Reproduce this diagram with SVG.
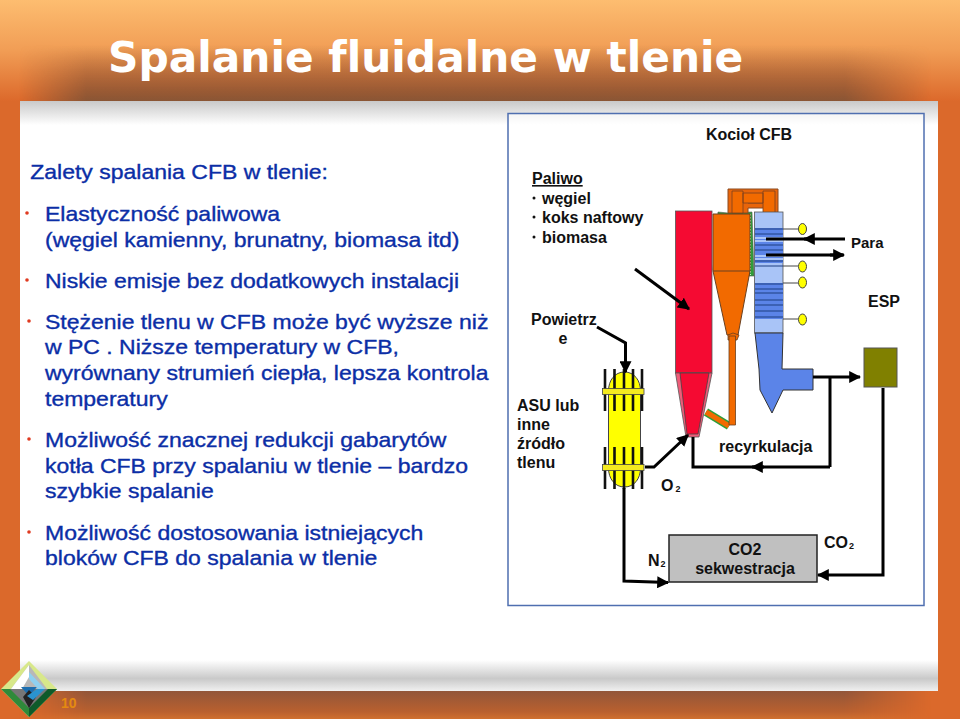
<svg xmlns="http://www.w3.org/2000/svg" width="960" height="719" viewBox="0 0 960 719">
<style>
.b{font-family:"Liberation Sans",Arial,sans-serif;font-size:20px;fill:#0b2ea6;stroke:#0b2ea6;stroke-width:.35px;font-variant-ligatures:none}
.t{font-family:"Liberation Sans",Arial,sans-serif;font-weight:bold;font-size:16px;fill:#111;font-variant-ligatures:none}
.w{fill:none;stroke:#000;stroke-width:3}
.g{fill:none;stroke:#444;stroke-width:1}
.bul{fill:#e03a20}
.lb{stroke:#333;stroke-width:1;fill:#5b84e8}
.ye{fill:#ffff00;stroke:#444;stroke-width:1}
.tube{stroke:#111;stroke-width:2.600}
</style>
<defs>
<linearGradient id="top" x1="0" y1="0" x2="0" y2="1"><stop offset="0" stop-color="#fdbd70"/><stop offset=".5" stop-color="#f19d55"/><stop offset="1" stop-color="#dc692b"/></linearGradient>
<linearGradient id="dark" x1="0" y1="0" x2="0" y2="1"><stop offset="0" stop-color="#8a5535" stop-opacity="0"/><stop offset="1" stop-color="#8a5535"/></linearGradient>
<linearGradient id="bot" x1="0" y1="0" x2="0" y2="1"><stop offset="0" stop-color="#90553a"/><stop offset=".75" stop-color="#b9602f"/><stop offset="1" stop-color="#d0702f"/></linearGradient>
<linearGradient id="hfade"><stop offset=".02" stop-color="#000"/><stop offset=".09" stop-color="#fff"/><stop offset=".88" stop-color="#fff"/><stop offset=".97" stop-color="#000"/></linearGradient>
<mask id="hm" maskUnits="userSpaceOnUse" x="0" y="0" width="960" height="719"><rect width="960" height="719" fill="url(#hfade)"/></mask>
<linearGradient id="ps1" x1="0" y1="0" x2="0" y2="1"><stop offset="0" stop-color="#c9c9c9"/><stop offset="1" stop-color="#fff"/></linearGradient>
<linearGradient id="ps2" x1="0" y1="0" x2="0" y2="1"><stop offset="0" stop-color="#fff"/><stop offset=".6" stop-color="#c9c9c9"/><stop offset="1" stop-color="#f0f0f0"/></linearGradient>
<marker id="ah" viewBox="0 0 10 10" refX="9" refY="5" markerWidth="4" markerHeight="4" markerUnits="strokeWidth" orient="auto"><path d="M0 0L10 5L0 10z" fill="#000"/></marker>
</defs>

<g id="background">
<rect width="960" height="719" fill="#db692b"/>
<rect width="960" height="101" fill="url(#top)"/>
<rect y="45" width="960" height="56" fill="url(#dark)" mask="url(#hm)"/>
<rect y="690" width="960" height="29" fill="url(#bot)" mask="url(#hm)"/>
<rect x="20" y="101" width="918" height="590" fill="#fff"/>
<rect x="20" y="101" width="918" height="24" fill="url(#ps1)"/>
<rect x="20" y="660" width="918" height="31" fill="url(#ps2)"/>
</g>

<g id="logo">
<path d="M29 661L57 689L29 717L1 689z" fill="#d8e88a"/>
<path d="M29 665L47 689H11z" fill="#b8b8b8"/>
<path d="M29 665L11 689H22L29 677z" fill="#fff"/>
<path d="M1 689H57L29 717z" fill="#2f8a3a"/>
<path d="M29 717L57 689H45L29 705z" fill="#0f5a2a"/>
<path d="M10 689H48L29 708z" fill="#777"/>
<path d="M21 687H37L29 696z" fill="#1d6fb0"/>
<path d="M29 679L38 689L45 689L29 672z" fill="#8fd0f0"/>
<path d="M23 697L29 690L36 697L29 708z" fill="#222"/>
<path d="M27 696L37 689L45 689L33 700z" fill="#2a93cf"/>
<text x="61" y="708" font-family="Liberation Sans, Arial, sans-serif" font-weight="bold" font-size="14" fill="#e58a10">10</text>
</g>

<g id="title"><text x="108" y="72" font-family="DejaVu Sans, sans-serif" font-weight="bold" font-size="42.300" fill="#fff" style="font-variant-ligatures:none">Spalanie fluidalne w tlenie</text></g>

<g id="left-text">
<g transform="scale(1.15 1)">
<text class="b" x="26.300" y="179">Zalety spalania CFB w tlenie:</text>
<text class="b" x="39.130" y="221">Elastyczność paliwowa</text>
<text class="b" x="39.130" y="247">(węgiel kamienny, brunatny, biomasa itd)</text>
<text class="b" x="39.130" y="288">Niskie emisje bez dodatkowych instalacji</text>
<text class="b" x="39.130" y="329">Stężenie tlenu w CFB może być wyższe niż</text>
<text class="b" x="39.130" y="354">w PC . Niższe temperatury w CFB,</text>
<text class="b" x="39.130" y="380">wyrównany strumień ciepła, lepsza kontrola</text>
<text class="b" x="39.130" y="406">temperatury</text>
<text class="b" x="39.130" y="447">Możliwość znacznej redukcji gabarytów</text>
<text class="b" x="39.130" y="473">kotła CFB przy spalaniu w tlenie – bardzo</text>
<text class="b" x="39.130" y="498">szybkie spalanie</text>
<text class="b" x="39.130" y="540">Możliwość dostosowania istniejących</text>
<text class="b" x="39.130" y="565">bloków CFB do spalania w tlenie</text>
</g>
<circle class="bul" cx="27" cy="213" r="1.800"/>
<circle class="bul" cx="27" cy="280" r="1.800"/>
<circle class="bul" cx="29" cy="321" r="1.800"/>
<circle class="bul" cx="29" cy="439" r="1.800"/>
<circle class="bul" cx="29" cy="532" r="1.800"/>
</g>

<g id="frame"><rect x="508" y="113.500" width="416" height="492" fill="#fff" fill-opacity=".6" stroke="#4f6fb0" stroke-width="1.500"/></g>

<g id="furnace">
<rect x="675.500" y="211" width="36.500" height="162" fill="#f50a32" stroke="#555" stroke-width=".8"/>
<path d="M675.500 373H712L699 437H686z" fill="#ef5c78" stroke="#555" stroke-width=".8"/>
<path d="M680 373H709L698 434H687z" fill="#f50a32" stroke="#444" stroke-width=".8"/>
</g>

<g id="cyclone">
<path d="M718 212L728 213L752 212L754 276L746 276L713 270z" fill="#2e9e3a" stroke="#555" stroke-width=".6"/>
<path d="M750.500 214V275" stroke="#c8f0c8" stroke-width="1" stroke-dasharray="1.500 1.500" fill="none"/>
<path d="M728 213V189H778V213H770V195H748V203H764V208H748V213z" fill="#e8650a" stroke="#8a4a20" stroke-width="1"/>
<path d="M732 213V191H743V213zM763 213V191H775V213zM743 193H763V203H743z" fill="#f26a00" stroke="#7a4020" stroke-width=".8"/>
<path d="M713 214H750V271L738 335H727L713 271z" fill="#f26a00" stroke="#6a4020" stroke-width="1"/>
<path d="M713 271H750" stroke="#6a4020" stroke-width="1"/>
<path d="M728 335L733 333L739 335L737 340H728z" fill="#f26a00" stroke="#6a4020" stroke-width=".8"/>
<path d="M706 412L729 426" stroke="#2e9e3a" stroke-width="8" fill="none"/>
<path d="M706 412L729 426" stroke="#f26a00" stroke-width="5" fill="none"/>
<path d="M729 336H735.500V425H729z" fill="#f26a00" stroke="#6a4020" stroke-width=".8"/>
</g>

<g id="backpass">
<rect x="754.500" y="212" width="28.500" height="121" fill="#a9c4f7" stroke="#555" stroke-width=".8"/>
<rect x="755" y="228" width="28" height="35" fill="#5b84e8"/>
<rect x="755" y="283" width="28" height="36" fill="#5b84e8"/>
<path d="M755 229H783M755 234H783M755 245H783M755 250H783M755 261H783M755 266H783M755 284H783M755 289H783M755 293H783M755 300H783M755 305H783M755 311H783M755 317H783" stroke="#1e3f80" stroke-width="1" fill="#a9c4f7"/>
<path d="M755 238H783M755 241H783M755 256H783M755 259H783" stroke="#a9c4f7" stroke-width="2"/>
<path d="M783 229H798M783 266H798M783 283H798M783 319H798" class="g"/>
<ellipse class="ye" cx="802.500" cy="229" rx="4" ry="5.500"/>
<ellipse class="ye" cx="802.500" cy="266.500" rx="4" ry="5.500"/>
<ellipse class="ye" cx="802.500" cy="282.500" rx="4" ry="5.500"/>
<ellipse class="ye" cx="802.500" cy="319.500" rx="4" ry="5.500"/>
<path class="lb" d="M755 333H783L782 369H813V390H783L772 413L760 390L759 369z"/>
</g>

<g id="esp"><rect x="864" y="348" width="33" height="39" fill="#808000" stroke="#555" stroke-width="1"/></g>

<g id="asu">
<path class="ye" d="M608.500 391C608.500 380 615 372 624.500 372C634 372 640.500 380 640.500 391V468C640.500 479 634 487 624.500 487C615 487 608.500 479 608.500 468z"/>
<path class="tube" d="M605 369V411M614.500 369V411M624 369V411M633 369V411M642 369V411M605 447V489M614.500 447V489M624 447V489M633 447V489M642 447V489"/>
<rect x="602.500" y="388.500" width="41.500" height="6" fill="#f4ea20" stroke="#444" stroke-width=".8"/>
<rect x="602.500" y="464.500" width="41.500" height="6" fill="#f4ea20" stroke="#444" stroke-width=".8"/>
</g>

<g id="co2-box"><rect x="669" y="535" width="148" height="47" fill="#c0c0c0" stroke="#222" stroke-width="1.500"/></g>

<g id="connectors">
<path class="w" d="M635 269L689 309" marker-end="url(#ah)"/>
<path class="w" d="M597 327L625.500 343V372" marker-end="url(#ah)"/>
<path class="w" d="M645 467H654L688 435" marker-end="url(#ah)"/>
<path class="w" d="M830 467H693V437M830 377V467"/>
<path class="w" d="M764 467H752" marker-end="url(#ah)"/>
<path class="w" d="M813 377H860" marker-end="url(#ah)"/>
<path class="w" d="M883 388V575H818" marker-end="url(#ah)"/>
<path class="w" d="M624 488V581L668 582.500" marker-end="url(#ah)"/>
<path class="w" d="M845 239H766M766 255H843"/>
<path class="w" d="M814 239H804" marker-end="url(#ah)"/>
<path class="w" d="M830 255H844" marker-end="url(#ah)"/>
</g>

<g id="right-labels">
<text class="t" x="749" y="140" text-anchor="middle">Kocioł CFB</text>
<text class="t" x="532" y="184" text-decoration="underline">Paliwo</text>
<text class="t" x="542" y="204">węgiel</text>
<text class="t" x="542" y="223">koks naftowy</text>
<text class="t" x="542" y="243">biomasa</text>
<circle cx="534" cy="198" r="1.500" fill="#111"/>
<circle cx="534" cy="217" r="1.500" fill="#111"/>
<circle cx="534" cy="237" r="1.500" fill="#111"/>
<text class="t" x="851" y="248" style="font-size:15px">Para</text>
<text class="t" x="868" y="307">ESP</text>
<text class="t" x="531" y="325">Powietrz</text>
<text class="t" x="563" y="344" text-anchor="middle">e</text>
<text class="t" x="517" y="411">ASU lub</text>
<text class="t" x="517" y="430">inne</text>
<text class="t" x="517" y="449">źródło</text>
<text class="t" x="517" y="468">tlenu</text>
<text class="t" x="661" y="491">O<tspan style="font-size:9px" dx="2" dy="1">2</tspan></text>
<text class="t" x="719" y="452">recyrkulacja</text>
<text class="t" x="648" y="566">N<tspan style="font-size:9px" dx="1" dy="1">2</tspan></text>
<text class="t" x="745" y="555" text-anchor="middle">CO2</text>
<text class="t" x="745" y="574" text-anchor="middle">sekwestracja</text>
<text class="t" x="824" y="548">CO<tspan style="font-size:9px" dx="1" dy="1">2</tspan></text>
</g>
</svg>
